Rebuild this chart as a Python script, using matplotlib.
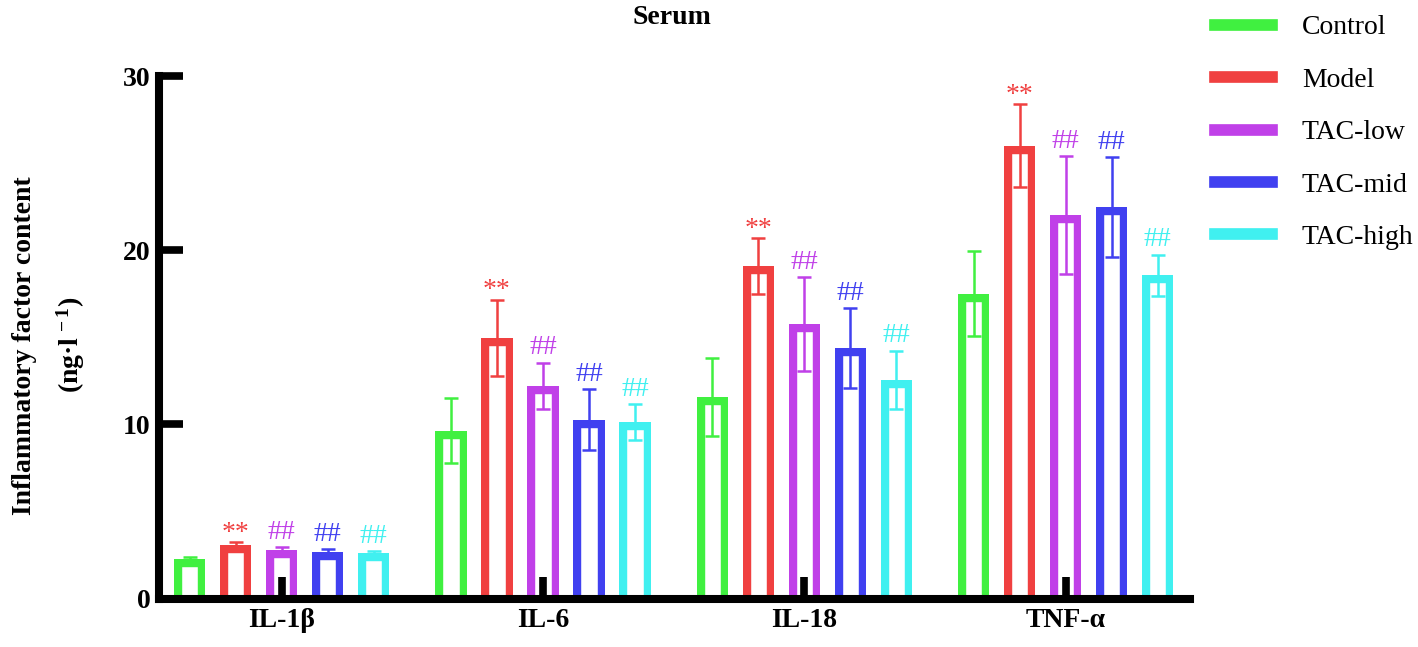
import numpy as np
import matplotlib.pyplot as plt
from matplotlib.patches import Rectangle
from matplotlib.lines import Line2D

# datos (media y desviacion)
cytokines = ['IL-1β', 'IL-6', 'IL-18', 'TNF-α']
groups = ['Control', 'Model', 'TAC-low', 'TAC-mid', 'TAC-high']
colors = ['#40f040', '#f04040', '#c040e8', '#4040f0', '#40f0f0']

control = [2.26, 9.64, 11.59, 17.51]
control_sd = [0.12, 1.88, 2.23, 2.42]
model = [3.07, 14.98, 19.08, 26.00]
model_sd = [0.17, 2.19, 1.61, 2.37]
tac_low = [2.79, 12.21, 15.75, 22.00]
tac_low_sd = [0.17, 1.34, 2.69, 3.39]
tac_mid = [2.69, 10.28, 14.39, 22.50]
tac_mid_sd = [0.14, 1.74, 2.28, 2.86]
tac_high = [2.62, 10.14, 12.56, 18.57]
tac_high_sd = [0.12, 1.02, 1.67, 1.17]
marks = ['', '**', '##', '##', '##']

means = [control, model, tac_low, tac_mid, tac_high]
sds = [control_sd, model_sd, tac_low_sd, tac_mid_sd, tac_high_sd]

plt.rcParams['font.family'] = 'Liberation Serif'
plt.rcParams['mathtext.fontset'] = 'custom'
plt.rcParams['mathtext.rm'] = 'Liberation Serif:bold'
plt.rcParams['mathtext.it'] = 'Liberation Serif:bold'

fig = plt.figure(figsize=(14.18, 6.47), dpi=100)
ax = fig.add_axes([0.1121, 0.0747, 0.7271, 0.8078])

x = np.arange(len(cytokines))
step = 0.176
width = 0.12
base = -1.0  # la base queda bajo el eje para que la barra no se vea cerrada

for i in range(len(groups)):
    xs = x + (i - 2) * step
    vals = np.array(means[i])
    c = colors[i]
    bars = ax.bar(xs, vals - base, width, bottom=base, fill=False,
                  edgecolor=c, linewidth=11.1, zorder=1)
    # borde solo hacia dentro (como Prism)
    for r in bars:
        r.set_clip_path(Rectangle((r.get_x(), 0), r.get_width(),
                                  r.get_y() + r.get_height(),
                                  transform=ax.transData))
    ax.errorbar(xs, vals, yerr=sds[i], fmt='none', ecolor=c,
                elinewidth=1.8, capsize=5, capthick=1.8, zorder=3)
    if marks[i]:
        off = 1.5 if marks[i] == '**' else 6
        for xx, v, s in zip(xs, vals, sds[i]):
            ax.annotate(marks[i], (xx, v + s), xytext=(0, off),
                        textcoords='offset points', ha='center',
                        va='baseline', color=c, fontsize=20)

ax.set_xlim(-0.4696, 3.476)
ax.set_ylim(0, 30)
ax.set_yticks([0, 10, 20, 30])
ax.set_xticks(x)
ax.set_xticklabels(cytokines, fontsize=20, fontweight='bold')
for lab in ax.get_yticklabels():
    lab.set_fontsize(20)
    lab.set_fontweight('bold')

for s in ['top', 'right']:
    ax.spines[s].set_visible(False)
for s in ['left', 'bottom']:
    ax.spines[s].set_linewidth(5.8)
    ax.spines[s].set_capstyle('projecting')
ax.tick_params(axis='y', direction='in', length=17.3, width=5.5, pad=6)
ax.tick_params(axis='x', direction='in', length=15.8, width=5.5, pad=7)

fig.text(672 / 1418, 1 - 18 / 647, 'Serum', ha='center', va='center',
         fontsize=20, fontweight='bold')
fig.text(25 / 1418, 1 - 346 / 647, 'Inflammatory factor content',
         rotation=90, ha='center', va='center', fontsize=20, fontweight='bold')
fig.text(71 / 1418, 1 - 345 / 647, r'(ng·l$^{\,-1}$)',
         rotation=90, ha='center', va='center', fontsize=20, fontweight='bold')

handles = [Line2D([], [], color=c, linewidth=8.4) for c in colors]
fig.legend(handles, groups, loc='upper left',
           bbox_to_anchor=(1215 / 1418, 1 - 15 / 647), frameon=False,
           fontsize=20, handlelength=2.05, handletextpad=1.08,
           labelspacing=0.97, borderpad=0, borderaxespad=0)

fig.savefig('out.png', dpi=100)
